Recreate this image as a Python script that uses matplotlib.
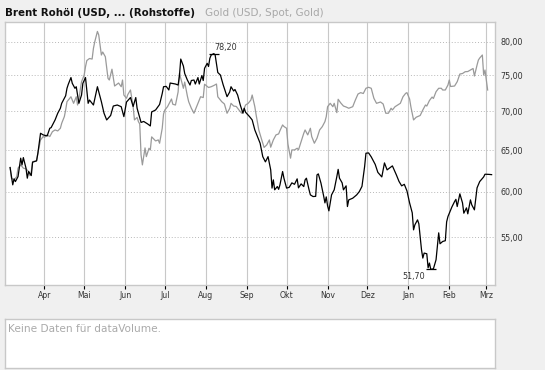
import matplotlib
matplotlib.use("Agg")
import matplotlib.pyplot as plt
from matplotlib.ticker import FixedLocator, FuncFormatter, NullLocator
import pandas as pd
from datetime import datetime

# ---------------- data ----------------
brent_dates = [
    "2006-03-06", "2006-03-08", "2006-03-09", "2006-03-10", "2006-03-12", "2006-03-14", "2006-03-15", "2006-03-16",
    "2006-03-18", "2006-03-19", "2006-03-20", "2006-03-22", "2006-03-23", "2006-03-26", "2006-03-27", "2006-03-29", "2006-03-31",
    "2006-04-03", "2006-04-05", "2006-04-06", "2006-04-09", "2006-04-11", "2006-04-13", "2006-04-14", "2006-04-17",
    "2006-04-18", "2006-04-19", "2006-04-21", "2006-04-22", "2006-04-24", "2006-04-25", "2006-04-27", "2006-04-29", "2006-04-30",
    "2006-05-02", "2006-05-04", "2006-05-05", "2006-05-08", "2006-05-11", "2006-05-14", "2006-05-16", "2006-05-18",
    "2006-05-21", "2006-05-23", "2006-05-26", "2006-05-29", "2006-05-31",
    "2006-06-02", "2006-06-05", "2006-06-07", "2006-06-09", "2006-06-10", "2006-06-13", "2006-06-15", "2006-06-18",
    "2006-06-20", "2006-06-21", "2006-06-24", "2006-06-27", "2006-06-29", "2006-06-30",
    "2006-07-02", "2006-07-04", "2006-07-05", "2006-07-09", "2006-07-11", "2006-07-12", "2006-07-13", "2006-07-15",
    "2006-07-16", "2006-07-18", "2006-07-20", "2006-07-21", "2006-07-23", "2006-07-24", "2006-07-26", "2006-07-27",
    "2006-07-29", "2006-07-30", "2006-07-31",
    "2006-08-02", "2006-08-03", "2006-08-04", "2006-08-05", "2006-08-07", "2006-08-08", "2006-08-10", "2006-08-12",
    "2006-08-14", "2006-08-17", "2006-08-19", "2006-08-20", "2006-08-22", "2006-08-23", "2006-08-25", "2006-08-27",
    "2006-08-29", "2006-08-30", "2006-08-31",
    "2006-09-03", "2006-09-05", "2006-09-07", "2006-09-09", "2006-09-11", "2006-09-12", "2006-09-13", "2006-09-15",
    "2006-09-17", "2006-09-19", "2006-09-20", "2006-09-21", "2006-09-22", "2006-09-24", "2006-09-25", "2006-09-26",
    "2006-09-28", "2006-09-29",
    "2006-10-01", "2006-10-03", "2006-10-05", "2006-10-07", "2006-10-09", "2006-10-10", "2006-10-12", "2006-10-14",
    "2006-10-15", "2006-10-16", "2006-10-18", "2006-10-19", "2006-10-21", "2006-10-23", "2006-10-24", "2006-10-25",
    "2006-10-27", "2006-10-29", "2006-10-30", "2006-10-31",
    "2006-11-01", "2006-11-02", "2006-11-04", "2006-11-06", "2006-11-08", "2006-11-09", "2006-11-10", "2006-11-12",
    "2006-11-13", "2006-11-15", "2006-11-16", "2006-11-17", "2006-11-20", "2006-11-23", "2006-11-25", "2006-11-27",
    "2006-11-29", "2006-11-30",
    "2006-12-02", "2006-12-04", "2006-12-07", "2006-12-09", "2006-12-12", "2006-12-14", "2006-12-16", "2006-12-18",
    "2006-12-20", "2006-12-23", "2006-12-25", "2006-12-27", "2006-12-29", "2006-12-31",
    "2007-01-02", "2007-01-04", "2007-01-05", "2007-01-06", "2007-01-08", "2007-01-09", "2007-01-11", "2007-01-12",
    "2007-01-13", "2007-01-15", "2007-01-16", "2007-01-17", "2007-01-18", "2007-01-20", "2007-01-22", "2007-01-24",
    "2007-01-25", "2007-01-27", "2007-01-29", "2007-01-30", "2007-01-31",
    "2007-02-03", "2007-02-05", "2007-02-06", "2007-02-07", "2007-02-09", "2007-02-11", "2007-02-12", "2007-02-14",
    "2007-02-15", "2007-02-17", "2007-02-18", "2007-02-20", "2007-02-22", "2007-02-24", "2007-02-27", "2007-02-28",
    "2007-03-03", "2007-03-05",
]
brent_values = [
    62.85, 60.80, 61.50, 61.18, 61.77, 63.99, 63.17, 64.06,
    62.78, 61.58, 62.37, 61.89, 63.50, 63.66, 64.60, 67.12, 66.91,
    66.78, 67.77, 67.85, 68.86, 69.75, 70.42, 71.09, 72.13,
    73.17, 73.74, 74.69, 73.87, 73.17, 73.39, 71.09, 72.23, 73.87,
    74.69, 71.09, 71.54, 70.86, 73.39, 71.31, 69.75, 68.86,
    69.45, 70.72, 70.86, 70.63, 69.30,
    71.27, 71.88, 70.66, 71.88, 70.42, 68.53, 68.66, 68.33,
    68.07, 69.92, 70.19, 70.93, 72.44, 73.39,
    73.44, 72.93, 73.91, 73.77, 73.63, 74.91, 77.39, 76.36,
    75.27, 74.34, 73.63, 74.27, 74.34, 73.77, 74.69, 73.77,
    74.98, 74.27, 76.03,
    76.76, 76.29, 77.50, 77.99, 78.20, 78.00, 75.42, 75.05,
    73.70, 72.00, 72.65, 73.39, 72.79, 73.00, 72.23, 70.86,
    69.75, 70.42, 69.88,
    69.30, 68.86, 67.55, 66.70, 65.85, 65.01, 64.18, 63.54,
    64.18, 62.57, 60.42, 61.38, 60.22, 60.60, 60.28, 60.80,
    62.37, 61.58,
    60.42, 60.51, 61.03, 60.86, 61.50, 60.45, 60.91, 60.60,
    61.38, 61.58, 60.22, 59.64, 59.45, 59.47, 61.97, 62.09,
    61.00, 59.53, 58.73, 59.41,
    58.40, 57.84, 59.64, 60.22, 61.77, 62.63, 61.58, 61.03,
    60.22, 60.68, 58.32, 59.07, 59.26, 59.64, 60.02, 60.62,
    62.97, 64.60,
    64.64, 64.15, 63.23, 62.27, 61.73, 63.41, 62.57, 62.81,
    63.05, 61.97, 61.20, 60.68, 60.86, 60.10,
    58.73, 57.62, 55.77, 56.31, 56.85, 56.42, 53.68, 52.83,
    53.34, 53.27, 51.86, 52.33, 51.70, 51.75, 52.66, 55.45,
    54.30, 54.54, 54.62, 56.63, 57.21,
    58.28, 58.88, 59.13, 58.32, 59.76, 58.73, 57.58, 58.17,
    57.51, 59.07, 58.51, 57.95, 60.45, 61.18, 61.73, 62.05,
    62.03, 62.00,
]

gold_dates = [
    "2006-03-06", "2006-03-07", "2006-03-09", "2006-03-11", "2006-03-12", "2006-03-14", "2006-03-16", "2006-03-18",
    "2006-03-20", "2006-03-21", "2006-03-22", "2006-03-23", "2006-03-26", "2006-03-27", "2006-03-29", "2006-03-31",
    "2006-04-01", "2006-04-03", "2006-04-05", "2006-04-07", "2006-04-09", "2006-04-11", "2006-04-13", "2006-04-14",
    "2006-04-16", "2006-04-17", "2006-04-18", "2006-04-21", "2006-04-23", "2006-04-25", "2006-04-26", "2006-04-27",
    "2006-04-28", "2006-04-29",
    "2006-05-01", "2006-05-02", "2006-05-03", "2006-05-05", "2006-05-07", "2006-05-08", "2006-05-09", "2006-05-11",
    "2006-05-12", "2006-05-13", "2006-05-14", "2006-05-15", "2006-05-17", "2006-05-19", "2006-05-20", "2006-05-22",
    "2006-05-24", "2006-05-26", "2006-05-27", "2006-05-29", "2006-05-30", "2006-05-31",
    "2006-06-02", "2006-06-03", "2006-06-05", "2006-06-07", "2006-06-08", "2006-06-10", "2006-06-11", "2006-06-12",
    "2006-06-13", "2006-06-14", "2006-06-16", "2006-06-17", "2006-06-19", "2006-06-20", "2006-06-21", "2006-06-24",
    "2006-06-26", "2006-06-27", "2006-06-29", "2006-06-30",
    "2006-07-01", "2006-07-03", "2006-07-05", "2006-07-06", "2006-07-07", "2006-07-09", "2006-07-11", "2006-07-12",
    "2006-07-14", "2006-07-15", "2006-07-16", "2006-07-18", "2006-07-19", "2006-07-21", "2006-07-23", "2006-07-25",
    "2006-07-26", "2006-07-28", "2006-07-30", "2006-07-31",
    "2006-08-02", "2006-08-03", "2006-08-05", "2006-08-07", "2006-08-09", "2006-08-10", "2006-08-12", "2006-08-13",
    "2006-08-15", "2006-08-17", "2006-08-19", "2006-08-20", "2006-08-22", "2006-08-24", "2006-08-26", "2006-08-28",
    "2006-08-30", "2006-08-31",
    "2006-09-02", "2006-09-04", "2006-09-05", "2006-09-07", "2006-09-08", "2006-09-10", "2006-09-12", "2006-09-14",
    "2006-09-16", "2006-09-18", "2006-09-19", "2006-09-21", "2006-09-23", "2006-09-25", "2006-09-26", "2006-09-28",
    "2006-09-29",
    "2006-10-01", "2006-10-02", "2006-10-04", "2006-10-05", "2006-10-07", "2006-10-09", "2006-10-10", "2006-10-12",
    "2006-10-14", "2006-10-15", "2006-10-17", "2006-10-19", "2006-10-20", "2006-10-22", "2006-10-24", "2006-10-26",
    "2006-10-28", "2006-10-30", "2006-10-31",
    "2006-11-01", "2006-11-03", "2006-11-05", "2006-11-06", "2006-11-08", "2006-11-09", "2006-11-11", "2006-11-13",
    "2006-11-15", "2006-11-17", "2006-11-20", "2006-11-22", "2006-11-24", "2006-11-26", "2006-11-28", "2006-11-30",
    "2006-12-02", "2006-12-04", "2006-12-06", "2006-12-08", "2006-12-11", "2006-12-13", "2006-12-15", "2006-12-17",
    "2006-12-19", "2006-12-20", "2006-12-22", "2006-12-24", "2006-12-26", "2006-12-28", "2006-12-30", "2006-12-31",
    "2007-01-02", "2007-01-03", "2007-01-05", "2007-01-07", "2007-01-10", "2007-01-12", "2007-01-14", "2007-01-15",
    "2007-01-17", "2007-01-19", "2007-01-20", "2007-01-22", "2007-01-24", "2007-01-26", "2007-01-27", "2007-01-29",
    "2007-01-31",
    "2007-02-01", "2007-02-02", "2007-02-05", "2007-02-07", "2007-02-09", "2007-02-11", "2007-02-13", "2007-02-15",
    "2007-02-18", "2007-02-19", "2007-02-20", "2007-02-22", "2007-02-23", "2007-02-24", "2007-02-26", "2007-02-27",
    "2007-02-28", "2007-03-02",
]
gold_values = [
    62.85, 61.58, 61.38, 61.77, 62.78, 63.17, 62.78, 62.69,
    62.37, 61.89, 62.37, 63.57, 63.66, 64.60, 66.27, 66.70,
    66.60, 66.91, 66.70, 67.33, 67.55, 67.42, 67.77, 68.42,
    69.30, 70.19, 71.31, 71.99, 71.09, 71.99, 70.86, 71.54,
    72.93, 74.10,
    75.05, 76.26, 77.17, 77.47, 77.39, 79.00, 80.00, 81.60,
    81.05, 79.50, 77.99, 78.44, 77.73, 74.58, 74.34, 75.90,
    73.49, 73.77, 73.91, 73.39, 74.34, 72.23,
    71.78, 72.30, 72.93, 70.63, 68.86, 69.19, 68.64, 68.33,
    64.39, 63.17, 65.26, 64.18, 65.22, 65.01, 66.66, 66.14,
    66.27, 65.85, 67.77, 69.65,
    70.19, 70.63, 71.31, 71.68, 70.96, 70.86, 72.65, 75.30,
    73.87, 73.17, 74.05, 72.09, 71.31, 70.42, 69.75, 70.63,
    71.09, 71.99, 71.88, 73.74,
    73.42, 73.28, 73.39, 73.56, 73.77, 71.99, 71.54, 71.31,
    71.00, 69.75, 70.39, 71.09, 70.72, 70.66, 70.19, 69.75,
    70.42, 70.86,
    71.09, 71.54, 72.23, 70.63, 69.52, 67.55, 66.40, 65.32,
    65.64, 66.27, 65.35, 66.27, 66.91, 67.04, 67.46, 68.20,
    68.00,
    67.77, 65.77, 63.99, 65.01, 65.01, 65.22, 65.01, 66.06,
    67.12, 67.55, 66.91, 67.77, 66.70, 65.85, 66.49, 67.55,
    67.98, 68.64, 69.30,
    70.63, 71.09, 70.63, 71.09, 69.83, 71.64, 71.13, 70.72,
    70.59, 70.42, 70.63, 71.54, 72.37, 72.56, 72.44, 73.17,
    73.31, 73.17, 71.78, 71.09, 71.27, 71.00, 69.75, 69.75,
    70.42, 70.19, 70.63, 70.86, 71.09, 71.99, 72.46, 72.56,
    71.68, 70.59, 68.86, 69.22, 69.45, 70.19, 70.86, 70.72,
    71.47, 71.95, 71.75, 72.69, 73.17, 73.17, 72.93, 72.93,
    73.63,
    74.34, 73.42, 73.49, 74.10, 75.20, 75.27, 75.53, 75.56,
    75.88, 76.00, 74.91, 76.51, 77.24, 77.54, 77.99, 75.05,
    75.78, 72.93,
]

y_ticks = [55, 60, 65, 70, 75, 80]
month_ticks = ["2006-04-01", "2006-05-01", "2006-06-01", "2006-07-01", "2006-08-01", "2006-09-01",
               "2006-10-01", "2006-11-01", "2006-12-01", "2007-01-01", "2007-02-01", "2007-03-01"]
month_labels = ["Apr", "Mai", "Jun", "Jul", "Aug", "Sep", "Okt", "Nov", "Dez", "Jan", "Feb", "Mrz"]

title_main = "Brent Rohöl (USD, ... (Rohstoffe)"
title_comp = "Gold (USD, Spot, Gold)"
volume_text = "Keine Daten für dataVolume."

# ---------------- figure ----------------
W, H = 545, 370
fig = plt.figure(figsize=(W / 100, H / 100), dpi=100)
fig.patch.set_facecolor("#f0f0f0")
plt.rcParams["font.family"] = ["DejaVu Sans"]

def fx(px):
    return px / W

def fy(py):
    return 1 - py / H

ax = fig.add_axes([fx(5.2), fy(284.6), fx(495.3 - 5.2), (284.6 - 22.0) / H])
ax.set_facecolor("white")
for s in ax.spines.values():
    s.set_color("#c8c8c8")
    s.set_linewidth(1.0)

bd = pd.to_datetime(brent_dates)
gd = pd.to_datetime(gold_dates)

ax.plot(gd, gold_values, color="#9a9a9a", lw=0.9, zorder=3)
ax.plot(bd, brent_values, color="#000000", lw=0.9, zorder=4)

ax.set_yscale("log")
ax.set_ylim(50.21, 83.09)
ax.set_xlim(datetime(2006, 3, 2, 7), datetime(2007, 3, 7, 19))

ax.yaxis.set_major_locator(FixedLocator(y_ticks))
ax.yaxis.set_minor_locator(NullLocator())
ax.yaxis.set_major_formatter(FuncFormatter(lambda v, p: f"{v:.2f}".replace(".", ",")))
ax.yaxis.tick_right()
ax.tick_params(axis="y", length=0, pad=4.0, labelsize=5.8, labelcolor="#333333")

mt = pd.to_datetime(month_ticks)
ax.set_xticks(mt)
ax.set_xticklabels(month_labels)
ax.xaxis.set_minor_locator(NullLocator())
ax.tick_params(axis="x", length=3, width=0.8, color="#000000", direction="out",
               pad=1.5, labelsize=5.6, labelcolor="#333333")

ax.grid(axis="x", color="#c8c8c8", lw=0.8, ls="-", zorder=1)
ax.grid(axis="y", color="#b8b8b8", lw=0.7, ls=(0, (1, 2)), zorder=1)
ax.set_axisbelow(True)

# extreme annotations
imax = max(range(len(brent_values)), key=lambda i: brent_values[i])
imin = min(range(len(brent_values)), key=lambda i: brent_values[i])
ax.plot([bd[imax]], [brent_values[imax]], marker="_", ms=7, mew=0.9, color="black", zorder=5)
ax.plot([bd[imin]], [brent_values[imin]], marker="_", ms=7, mew=0.9, color="black", zorder=5)
fmt = lambda v: f"{v:.2f}".replace(".", ",")
ax.annotate(fmt(brent_values[imax]), (bd[imax], brent_values[imax]), xytext=(0.5, 1.5),
            textcoords="offset points", ha="left", va="bottom", fontsize=5.8, color="#333333")
ax.annotate(fmt(brent_values[imin]), (bd[imin], brent_values[imin]), xytext=(-4, -2),
            textcoords="offset points", ha="right", va="top", fontsize=5.8, color="#333333")

# titles
fig.text(fx(5.2), fy(12.5), title_main, fontsize=7.4, fontweight="bold", color="#111111",
         ha="left", va="center")
fig.text(fx(205), fy(12.5), title_comp, fontsize=7.5, color="#a8a8a8", ha="left", va="center")

# volume panel
ax2 = fig.add_axes([fx(5.2), fy(368), fx(495.3 - 5.2), (368 - 319.4) / H])
ax2.set_facecolor("white")
ax2.set_xticks([])
ax2.set_yticks([])
for s in ax2.spines.values():
    s.set_color("#c8c8c8")
    s.set_linewidth(1.0)
ax2.text(3 / 490, 1 - 9.5 / 48.6, volume_text, transform=ax2.transAxes, fontsize=7.6,
         color="#aaaaaa", ha="left", va="center")

fig.savefig("out.png", dpi=100, facecolor=fig.get_facecolor())
